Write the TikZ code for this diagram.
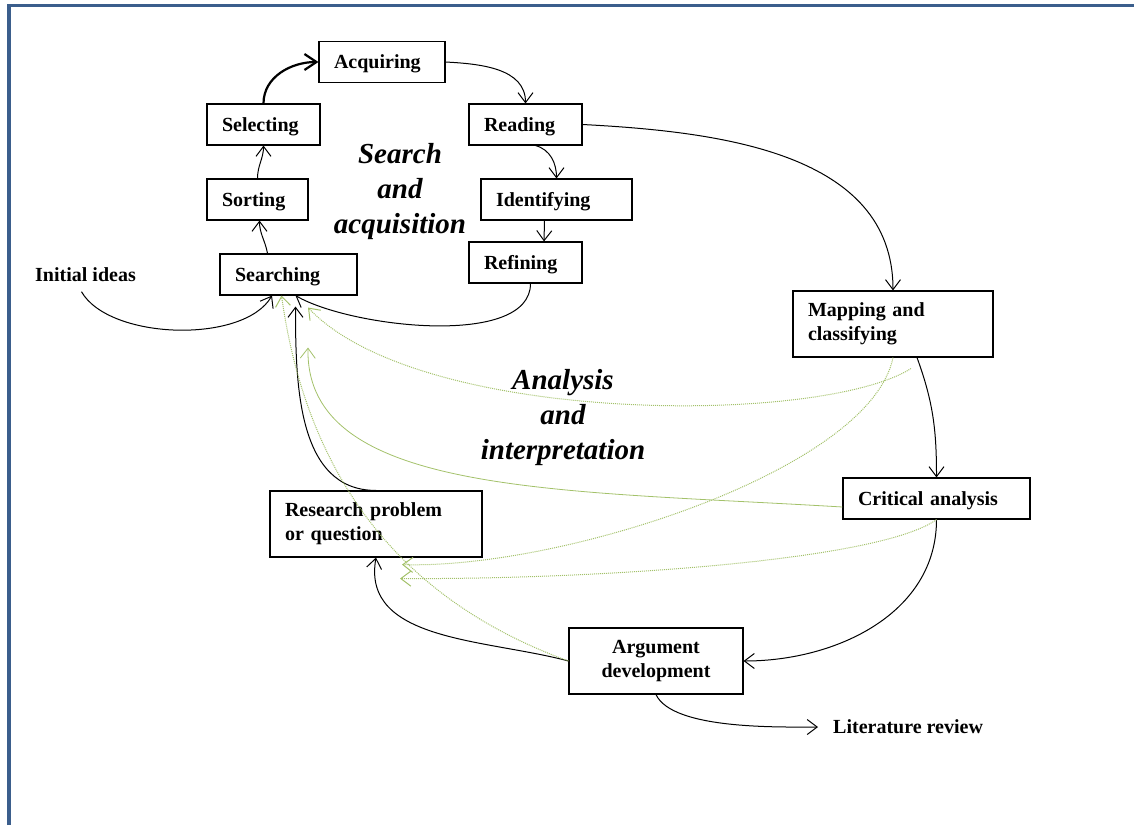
\documentclass[tikz,border=0pt]{standalone}
\usepackage{fontspec}
\setmainfont{Liberation Serif}
\usetikzlibrary{arrows.meta}
\definecolor{framecol}{HTML}{3B5E8C}
\definecolor{linkgreen}{HTML}{A3C16A}
\newcommand{\boxfont}{\fontsize{20}{24}\selectfont\bfseries}
\newcommand{\phasefont}{\fontsize{29}{35}\selectfont\bfseries\itshape}

\begin{document}
\begin{tikzpicture}[x=1pt, y=1pt,
    stagebase/.style={draw, line width=1.1pt, inner xsep=15pt, inner ysep=0pt,
        align=left, font=\boxfont},
    stage/.style={stagebase, minimum height=41pt, text height=13.5pt, text depth=0pt},
    tallstage/.style={stagebase, minimum height=66pt},
    note/.style={inner sep=0pt, font=\boxfont},
    phase/.style={align=center, font=\phasefont},
    link/.style={line width=1pt, -{Straight Barb[length=10pt,width=15pt]}},
    thicklink/.style={line width=2.2pt, -{Straight Barb[length=12pt,width=16pt]}},
    greenlink/.style={link, linkgreen, dash pattern=on 1pt off 1pt},
    greenline/.style={link, linkgreen, line width=0.8pt}]
    \useasboundingbox (0,0) rectangle (1134,-825);
    % Frame
    \draw[framecol, line width=3.5pt] (9,-825) -- (9,-5.5) -- (1134,-5.5);

    % Stages
    \node[stage, text width=96pt] (acq) at (382,-62) {Acquiring};
    \node[stage, text width=83pt] (sel) at (263.5,-124.5) {Selecting};
    \node[stage, text width=83pt] (read) at (525.5,-124.5) {Reading};
    \node[stage, text width=71pt] (sort) at (257.5,-199.5) {Sorting};
    \node[stage, text width=121pt] (ident) at (556.5,-199.5) {Identifying};
    \node[stage, text width=107pt] (search) at (288.5,-274.5) {Searching};
    \node[stage, text width=83pt] (refine) at (525.5,-262.5) {Refining};
    \node[tallstage, text width=170pt] (map) at (893,-324) {Mapping and\\classifying};
    \node[stage, text width=157pt] (crit) at (936.5,-498.5) {Critical analysis};
    \node[tallstage, text width=182pt] (research) at (376,-524) {Research problem\\or question};
    \node[tallstage, text width=144pt, align=center] (arg) at (656,-661) {Argument\\development};
    \node[note, anchor=west] (init) at (35,-274.5) {Initial ideas};
    \node[note, anchor=west, inner xsep=15pt] (lit) at (818,-727) {Literature review};

    % Phase labels
    \node[phase] (sa) at (400,-192) {Search\\and\\acquisition};
    \node[phase] (ai) at (563,-418) {Analysis\\and\\interpretation};

    % Search and acquisition cycle
    \draw[thicklink] (sel.north) to[out=90, in=180] (acq.west);
    \draw[link] (acq.east) to[out=-3, in=90] (read.north);
    \draw[link] ([xshift=10]read.south) to[out=-15, in=90] (ident.north);
    \draw[link] ([xshift=-12]ident.south) -- ([xshift=18.5]refine.north);
    \draw[link] (sort.north) to[out=90, in=-90] (sel.south);
    \draw[link] ([xshift=-21]search.north) to[out=100, in=-90] ([xshift=2]sort.south);
    \draw[link] ([xshift=-4, yshift=-10]init.south) to[out=-60, in=-120, looseness=0.75] ([xshift=-16.5]search.south);
    \draw[link] ([xshift=5]refine.south) to[out=-90, in=-30, looseness=0.7] ([xshift=7]search.south);

    % Analysis and interpretation
    \draw[link] (read.east) to[out=-3, in=90] (map.north);
    \draw[link] ([xshift=24]map.south) to[out=-70, in=90] (crit.north);
    \draw[link] (crit.south) to[out=-90, in=0] (arg.east);
    \draw[link] (arg.west) to[out=165, in=-100] (research.south);
    \draw[link] (research.north) to[out=180, in=-90] ([xshift=7, yshift=-11]search.south);
    \draw[link] (arg.south) to[out=-65, in=180, looseness=0.6] (lit.west);

    % Feedback
    \draw[greenlink] (arg.west) to[out=160, in=-82] ([xshift=-7]search.south);
    \draw[greenlink] ([xshift=18, yshift=-11]map.south) .. controls +(-91,-57) and +(112,-118) .. ([xshift=19.5, yshift=-12]search.south);
    \draw[greenlink] (map.south) .. controls +(-23,-113) and +(158,-5) .. ([xshift=26, yshift=-7]research.south);
    \draw[greenlink] (crit.south) .. controls +(-56.5,-41) and +(200,-1) .. ([xshift=24, yshift=-21]research.south);
    \draw[greenline] ([yshift=-8.5]crit.west) .. controls +(-283,17) and +(-3,-148) .. ([xshift=19.5, yshift=-52]search.south);
\end{tikzpicture}
\end{document}
